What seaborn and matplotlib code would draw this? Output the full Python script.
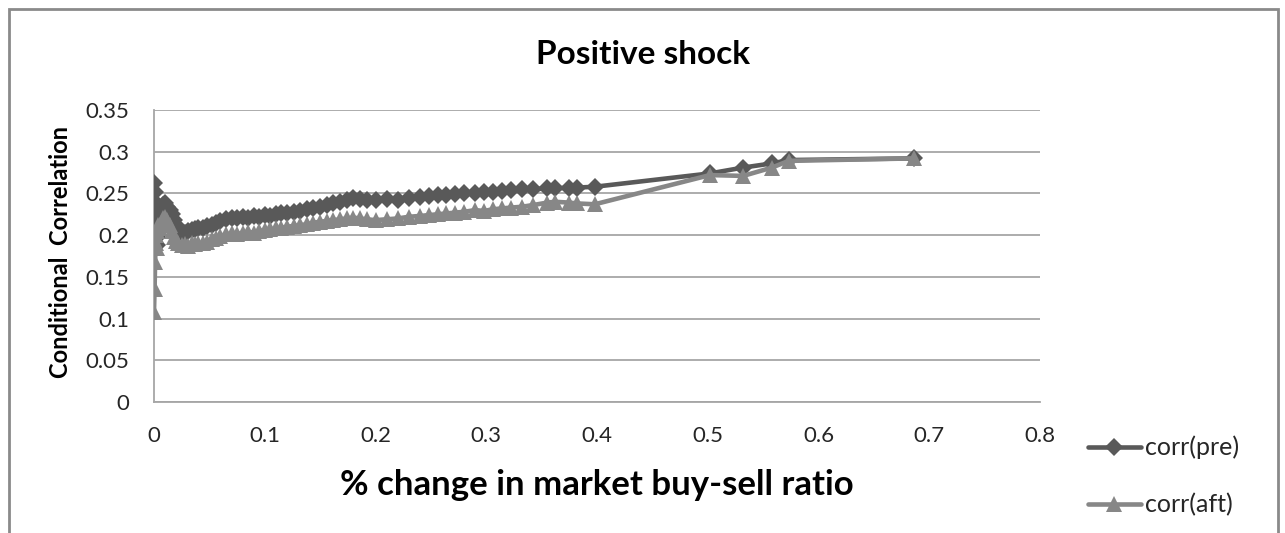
import matplotlib
matplotlib.use("Agg")
import matplotlib.pyplot as plt
from matplotlib.patches import Rectangle
from matplotlib.lines import Line2D
import seaborn as sns
import pandas as pd

# % change in market buy-sell ratio
x_ratio = [
    0.0, 0.0005, 0.001, 0.0015, 0.002, 0.0025, 0.003, 0.004, 0.005, 0.006,
    0.008, 0.010, 0.012, 0.014, 0.016, 0.018, 0.020, 0.022, 0.025, 0.028,
    0.031, 0.034, 0.037, 0.040, 0.044, 0.048, 0.052, 0.056, 0.060, 0.065,
    0.070, 0.075, 0.080, 0.085, 0.090, 0.095, 0.100, 0.105, 0.110, 0.115,
    0.120, 0.126, 0.132, 0.138, 0.144, 0.150, 0.156, 0.162, 0.168, 0.174,
    0.180, 0.186, 0.192, 0.200, 0.210, 0.220, 0.230, 0.240, 0.248, 0.256,
    0.264, 0.272, 0.280, 0.290, 0.298, 0.306, 0.314, 0.322, 0.332, 0.342,
    0.355, 0.362, 0.375, 0.382, 0.398, 0.502, 0.532, 0.558, 0.573, 0.686,
]

# conditional correlation before the shock
corr_pre = [
    0.262, 0.252, 0.240, 0.226, 0.212, 0.198, 0.188, 0.225, 0.232, 0.228,
    0.236, 0.238, 0.234, 0.230, 0.225, 0.218, 0.212, 0.206, 0.202, 0.203,
    0.205, 0.206, 0.207, 0.209, 0.208, 0.211, 0.212, 0.214, 0.217, 0.219,
    0.221, 0.220, 0.222, 0.221, 0.223, 0.222, 0.224, 0.223, 0.225, 0.226,
    0.227, 0.228, 0.229, 0.231, 0.233, 0.234, 0.236, 0.238, 0.240, 0.242,
    0.244, 0.243, 0.242, 0.242, 0.243, 0.242, 0.244, 0.246, 0.247, 0.248,
    0.248, 0.249, 0.250, 0.251, 0.252, 0.252, 0.253, 0.254, 0.255, 0.255,
    0.256, 0.256, 0.257, 0.257, 0.258, 0.274, 0.281, 0.286, 0.290, 0.292,
]

# conditional correlation after the shock
corr_aft = [
    0.108, 0.135, 0.168, 0.190, 0.200, 0.185, 0.205, 0.212, 0.208, 0.215,
    0.220, 0.222, 0.218, 0.212, 0.205, 0.198, 0.193, 0.190, 0.188, 0.189,
    0.187, 0.190, 0.189, 0.191, 0.190, 0.192, 0.195, 0.197, 0.199, 0.201,
    0.202, 0.201, 0.203, 0.204, 0.203, 0.205, 0.206, 0.207, 0.208, 0.209,
    0.210, 0.211, 0.212, 0.213, 0.215, 0.216, 0.217, 0.218, 0.219, 0.220,
    0.221, 0.220, 0.219, 0.218, 0.219, 0.220, 0.222, 0.223, 0.224, 0.225,
    0.226, 0.227, 0.228, 0.230, 0.229, 0.231, 0.232, 0.233, 0.234, 0.236,
    0.239, 0.240, 0.239, 0.238, 0.237, 0.272, 0.271, 0.281, 0.289, 0.292,
]

series_names = ["corr(pre)", "corr(aft)"]
x_ticks = [0, 0.1, 0.2, 0.3, 0.4, 0.5, 0.6, 0.7, 0.8]
y_ticks = [0, 0.05, 0.1, 0.15, 0.2, 0.25, 0.3, 0.35]

sns.set_style("white")
plt.rcParams["font.family"] = ["Lato", "DejaVu Sans"]

pre_color = "#595959"
aft_color = "#878787"
grid_color = "#a6a6a6"
line_w = 3.3
pre_ms = 9.5
aft_ms = 11

fig = plt.figure(figsize=(12.85, 5.33), dpi=100)
ax = fig.add_axes([154 / 1285, 1 - 402 / 533, (1040 - 154) / 1285, (402 - 110) / 533])

df_pre = pd.DataFrame({"x": x_ratio, "y": corr_pre})
df_aft = pd.DataFrame({"x": x_ratio, "y": corr_aft})

sns.lineplot(data=df_pre, x="x", y="y", ax=ax, sort=False, color=pre_color,
             linewidth=line_w, marker="D", markersize=pre_ms, markeredgewidth=0,
             zorder=3)
sns.lineplot(data=df_aft, x="x", y="y", ax=ax, sort=False, color=aft_color,
             linewidth=line_w, marker="^", markersize=aft_ms, markeredgewidth=0,
             zorder=4)

ax.set_xlim(0, 0.8)
ax.set_ylim(0, 0.35)
ax.set_xticks(x_ticks)
ax.set_yticks(y_ticks)
ax.set_xticklabels([f"{t:g}" for t in x_ticks])
ax.set_yticklabels([f"{t:g}" for t in y_ticks])
ax.tick_params(axis="both", length=0, labelsize=16, colors="#262626")
ax.tick_params(axis="x", pad=17)
ax.tick_params(axis="y", pad=18)

for t in y_ticks:
    ax.axhline(t, color=grid_color, linewidth=1.3, zorder=1)

for side in ["top", "right"]:
    ax.spines[side].set_visible(False)
ax.spines["left"].set_color(grid_color)
ax.spines["left"].set_linewidth(1.3)
ax.spines["bottom"].set_color(grid_color)
ax.spines["bottom"].set_linewidth(1.3)

ax.set_xlabel("")
ax.set_ylabel("")
fig.text(60 / 1285, 1 - 252 / 533, "Conditional  Correlation", rotation=90,
         ha="center", va="center", fontsize=17, fontweight="bold", color="black")
fig.text(643 / 1285, 1 - 55 / 533, "Positive shock", ha="center", va="center",
         fontsize=24, fontweight="bold", color="black")
fig.text(597 / 1285, 1 - 485 / 533, "% change in market buy-sell ratio",
         ha="center", va="center", fontsize=25, fontweight="bold", color="black")

handles = [
    Line2D([], [], color=pre_color, linewidth=line_w, marker="D", markersize=pre_ms,
           markeredgewidth=0),
    Line2D([], [], color=aft_color, linewidth=line_w, marker="^", markersize=aft_ms,
           markeredgewidth=0),
]
fig.legend(handles, series_names, loc="center left",
           bbox_to_anchor=(1088 / 1285, 1 - 476 / 533), frameon=False,
           fontsize=18, handlelength=2.1, handletextpad=0.2, labelspacing=1.35,
           borderaxespad=0, borderpad=0)

fig.patches.append(Rectangle((9 / 1285, -0.05), (1278 - 9) / 1285, 1.05 - 9 / 533,
                             transform=fig.transFigure, fill=False,
                             edgecolor="#8a8a8a", linewidth=2, zorder=0))

fig.savefig("out.png", dpi=100, facecolor="white")
